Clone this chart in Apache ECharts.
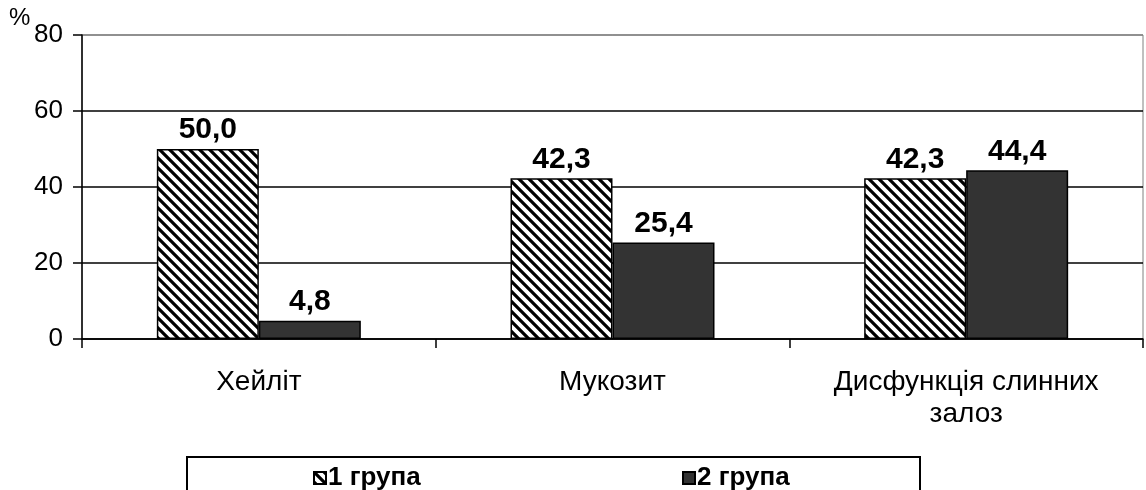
<!DOCTYPE html>
<html>
<head>
<meta charset="utf-8">
<script src="https://cdn.jsdelivr.net/npm/echarts@6/dist/echarts.min.js"></script>
<style>html,body{margin:0;padding:0;background:#fff}#c{width:1146px;height:490px}</style>
</head>
<body>
<div id="c"></div>
<script>
const categories = ['Хейліт', 'Мукозит', 'Дисфункція слинних\nзалоз'];
const group1 = [50.0, 42.3, 42.3];
const group2 = [4.8, 25.4, 44.4];
const seriesNames = ['1 група', '2 група'];
const yTicks = [0, 20, 40, 60, 80];

function hatch() {
  const s = 10;
  const c = document.createElement('canvas');
  c.width = s; c.height = s;
  const g = c.getContext('2d');
  g.fillStyle = '#fff'; g.fillRect(0, 0, s, s);
  g.strokeStyle = '#000'; g.lineWidth = 3.2;
  g.beginPath();
  g.moveTo(-2, -2); g.lineTo(s + 2, s + 2);
  g.moveTo(-2, s - 2); g.lineTo(2, s + 2);
  g.moveTo(s - 2, -2); g.lineTo(s + 2, 2);
  g.stroke();
  return c;
}
const pat = { image: hatch(), repeat: 'repeat' };
const font = 'Liberation Sans';
const chart = echarts.init(document.getElementById('c'));
const lbl = {
  show: true, position: 'top', distance: 4, color: '#000',
  fontFamily: font, fontWeight: 'bold', fontSize: 30,
  formatter: p => p.value.toFixed(1).replace('.', ',')
};
const legendText = { fontFamily: font, fontWeight: 'bold', fontSize: 26, color: '#000', padding: [0, 0, 0, -3] };
chart.setOption({
  animation: false,
  backgroundColor: '#fff',
  title: { text: '%', left: 9, top: 6, padding: 0,
    textStyle: { fontFamily: font, fontWeight: 'normal', fontSize: 24, color: '#000' } },
  grid: { left: 82, right: 3, top: 35, bottom: 151, show: true, borderColor: '#808080', borderWidth: 1 },
  graphic: [
    { type: 'rect', shape: { x: 187, y: 457, width: 733, height: 45 }, style: { fill: 'none', stroke: '#000', lineWidth: 2 }, z: 0 }
  ],
  legend: [
    { left: 308, top: 460, itemWidth: 12, itemHeight: 12, icon: 'rect', textStyle: legendText, data: [seriesNames[0]] },
    { left: 677, top: 460, itemWidth: 12, itemHeight: 12, icon: 'rect', textStyle: legendText, data: [seriesNames[1]] }
  ],
  xAxis: {
    type: 'category', data: categories,
    axisLine: { lineStyle: { color: '#000', width: 1.5 } },
    axisTick: { show: true, length: 9, lineStyle: { color: '#000', width: 1.5 } },
    axisLabel: { margin: 27, color: '#000', fontFamily: font, fontSize: 28, lineHeight: 32 },
    splitLine: { show: false }
  },
  yAxis: {
    type: 'value', min: 0, max: 80, interval: 20,
    axisLine: { show: true, lineStyle: { color: '#000', width: 1.5 } },
    axisTick: { show: true, length: 9, lineStyle: { color: '#000', width: 1.5 } },
    axisLabel: { margin: 19, color: '#000', fontFamily: font, fontSize: 26,
      formatter: v => yTicks.includes(v) ? String(v) : '' },
    splitLine: { show: true, lineStyle: { color: ['#000', '#000', '#000', '#000', '#808080'], width: 1.5 } }
  },
  series: [
    { name: seriesNames[0], type: 'bar', data: group1, barWidth: 102, barGap: '0%',
      itemStyle: { color: pat, borderColor: '#000', borderWidth: 1.5 }, label: lbl },
    { name: seriesNames[1], type: 'bar', data: group2, barWidth: 102,
      itemStyle: { color: '#333333', borderColor: '#000', borderWidth: 1.5 }, label: lbl }
  ]
});
</script>
</body>
</html>
